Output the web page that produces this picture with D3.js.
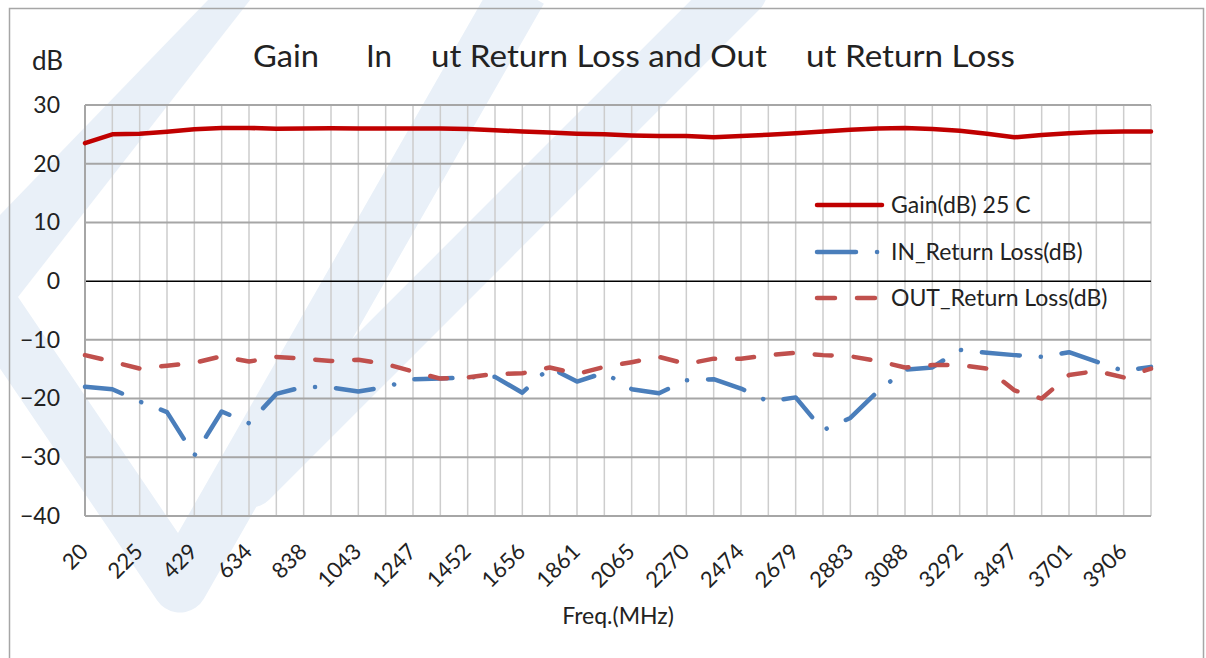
<!DOCTYPE html>
<html lang="en">
<head>
	<meta charset="utf-8">
	<title>Gain / Return Loss</title>
	<script src="https://cdn.jsdelivr.net/npm/d3@7"></script>
	<style>
		body { margin: 0; background: #fff; }
		text { font-family: Lato, "Open Sans", sans-serif; fill: #222; }
	</style>
</head>
<body>
	<script>
	// Frequency points (MHz)
	var categories = [20, 122, 225, 327, 429, 531, 634, 736, 838, 940,
		1043, 1145, 1247, 1349, 1452, 1554, 1656, 1758, 1861, 1963,
		2065, 2167, 2270, 2372, 2474, 2576, 2679, 2781, 2883, 2985,
		3088, 3190, 3292, 3394, 3497, 3599, 3701, 3803, 3906, 4008];

	// Gain(dB) 25 C
	var gainData = [23.5, 25.0, 25.1, 25.45, 25.85, 26.1, 26.1, 25.95, 26.0, 26.05,
		26.0, 26.0, 26.0, 26.0, 25.9, 25.7, 25.5, 25.3, 25.1, 25.0,
		24.8, 24.7, 24.7, 24.5, 24.7, 24.95, 25.2, 25.5, 25.8, 26.0,
		26.1, 25.9, 25.6, 25.1, 24.5, 24.9, 25.2, 25.4, 25.5, 25.5];

	// IN_Return Loss(dB)
	var inReturnLoss = [-18.0, -18.4, -20.5, -22.3, -29.7, -22.2, -24.2, -19.2, -18.0, -18.1,
		-18.8, -18.0, -16.7, -16.6, -16.4, -16.3, -19.0, -14.7, -17.1, -15.6,
		-18.4, -19.1, -16.9, -16.7, -18.3, -20.5, -19.8, -25.4, -23.3, -18.8,
		-15.1, -14.7, -11.7, -12.2, -12.6, -12.9, -12.1, -13.7, -15.3, -14.6];

	// OUT_Return Loss(dB)
	var outReturnLoss = [-12.6, -13.7, -14.9, -14.4, -13.9, -12.8, -13.7, -12.9, -13.2, -13.6,
		-13.4, -14.1, -15.4, -16.6, -16.4, -15.8, -15.7, -14.7, -15.8, -14.6,
		-13.8, -12.9, -14.1, -13.2, -13.2, -12.6, -12.2, -12.6, -12.8, -13.6,
		-14.7, -14.3, -14.3, -14.9, -18.6, -20.0, -16.0, -15.3, -16.4, -14.9];

	var yTicks = [30, 20, 10, 0, -10, -20, -30, -40];

	var w = 1206;
	var h = 658;
	var plotLeft = 85, plotRight = 1151, plotTop = 105, plotBottom = 516;

	var svg = d3.select("body")
		.append("svg")
		.attr("width", w)
		.attr("height", h);

	// faint watermark shapes behind the chart
	var wm = svg.append("g").attr("fill", "none").attr("stroke", "#e9f0f8");
	svg.append("path")
		.attr("d", "M208,0 L250,0 L0,320 L0,215 Z")
		.attr("fill", "#e9f0f8");
	wm.append("path")
		.attr("d", "M-20,290 L180,585 L520,-10")
		.attr("stroke-width", 55)
		.attr("stroke-linejoin", "round");
	wm.append("path")
		.attr("d", "M250,480 L740,-10")
		.attr("stroke-width", 55)
		.attr("stroke-linecap", "round");

	// outer chart border
	svg.append("rect")
		.attr("x", 9.5).attr("y", 8.5)
		.attr("width", 1194).attr("height", 700)
		.attr("fill", "none")
		.attr("stroke", "#a6a6a6")
		.attr("stroke-width", 1.5);

	var x = d3.scalePoint().domain(categories).range([plotLeft, plotRight]);
	var y = d3.scaleLinear().domain([-40, 30]).range([plotBottom, plotTop]);

	// vertical grid lines, one per category
	svg.append("g").selectAll("line")
		.data(categories)
		.enter()
		.append("line")
		.attr("x1", function(d) { return x(d); })
		.attr("x2", function(d) { return x(d); })
		.attr("y1", plotTop)
		.attr("y2", plotBottom)
		.attr("stroke", "#cdcdcd")
		.attr("stroke-width", 1.5);

	// horizontal grid lines
	svg.append("g").selectAll("line")
		.data(yTicks)
		.enter()
		.append("line")
		.attr("x1", plotLeft)
		.attr("x2", plotRight)
		.attr("y1", function(d) { return y(d); })
		.attr("y2", function(d) { return y(d); })
		.attr("stroke", function(d) { return d === 0 ? "#000" : "#a6a6a6"; })
		.attr("stroke-width", function(d) { return d === 0 ? 1.5 : 2; });

	// left axis line
	svg.append("line")
		.attr("x1", plotLeft).attr("x2", plotLeft)
		.attr("y1", plotTop).attr("y2", plotBottom)
		.attr("stroke", "#a6a6a6")
		.attr("stroke-width", 2);

	// y axis labels
	var yAxis = svg.append("g")
		.attr("transform", "translate(" + plotLeft + ",0)")
		.call(d3.axisLeft(y).tickValues(yTicks).tickSize(0).tickPadding(25));
	yAxis.select(".domain").remove();
	yAxis.selectAll("text")
		.style("font-family", "Lato, 'Open Sans', sans-serif")
		.style("font-size", "23px")
		.attr("fill", "#222");

	// x axis labels, every other category
	var xAxis = svg.append("g")
		.attr("transform", "translate(0," + plotBottom + ")")
		.call(d3.axisBottom(x)
			.tickValues(categories.filter(function(d, i) { return i % 2 === 0; }))
			.tickSize(0));
	xAxis.select(".domain").remove();
	xAxis.selectAll("text")
		.attr("x", 0).attr("y", 0).attr("dy", 0)
		.attr("text-anchor", "end")
		.attr("transform", "translate(4,37) rotate(-45)")
		.style("font-family", "Lato, 'Open Sans', sans-serif")
		.style("font-size", "22px")
		.attr("fill", "#222");

	// Title and axis names
	var titleParts = [["Gain", 253, 66], ["In", 366, 26], ["ut Return Loss and Out", 431, 336], ["ut Return Loss", 806, 209]];
	svg.selectAll("text.title")
		.data(titleParts)
		.enter()
		.append("text")
		.attr("class", "title")
		.attr("x", function(d) { return d[1]; })
		.attr("y", 67)
		.attr("textLength", function(d) { return d[2]; })
		.attr("lengthAdjust", "spacingAndGlyphs")
		.style("font-size", "30px")
		.text(function(d) { return d[0]; });

	svg.append("text")
		.attr("x", 32).attr("y", 70)
		.style("font-size", "26px")
		.text("dB");

	svg.append("text")
		.attr("x", 618).attr("y", 624)
		.attr("text-anchor", "middle")
		.style("font-size", "23px")
		.text("Freq.(MHz)");

	// series lines
	var line = d3.line()
		.x(function(d, i) { return x(categories[i]); })
		.y(function(d) { return y(d); });

	svg.append("path")
		.attr("d", line(gainData))
		.attr("fill", "none")
		.attr("stroke", "#c00000")
		.attr("stroke-width", 4.5)
		.attr("stroke-linejoin", "round")
		.attr("stroke-linecap", "round");

	svg.append("path")
		.attr("d", line(inReturnLoss))
		.attr("fill", "none")
		.attr("stroke", "#4a7ebb")
		.attr("stroke-width", 4.5)
		.attr("stroke-linejoin", "round")
		.attr("stroke-linecap", "round")
		.attr("stroke-dasharray", "38 21 0.1 21");

	svg.append("path")
		.attr("d", line(outReturnLoss))
		.attr("fill", "none")
		.attr("stroke", "#c0504d")
		.attr("stroke-width", 4.5)
		.attr("stroke-linejoin", "round")
		.attr("stroke-linecap", "round")
		.attr("stroke-dasharray", "17 22");

	// Legend
	var legend = [
		{ name: "Gain(dB) 25 C", color: "#c00000", dash: null, y: 205 },
		{ name: "IN_Return Loss(dB)", color: "#4a7ebb", dash: "39 21 0.1 30", y: 252 },
		{ name: "OUT_Return Loss(dB)", color: "#c0504d", dash: "18 22", y: 298 }
	];
	var lg = svg.append("g").selectAll("g")
		.data(legend)
		.enter()
		.append("g");
	lg.append("line")
		.attr("x1", 817).attr("x2", 882)
		.attr("y1", function(d) { return d.y; })
		.attr("y2", function(d) { return d.y; })
		.attr("stroke", function(d) { return d.color; })
		.attr("stroke-width", 4.5)
		.attr("stroke-linecap", "round")
		.attr("stroke-dasharray", function(d) { return d.dash; });
	lg.append("text")
		.attr("x", 891)
		.attr("y", function(d) { return d.y; })
		.attr("dy", "0.35em")
		.style("font-size", "23px")
		.text(function(d) { return d.name; });
	</script>
</body>
</html>
